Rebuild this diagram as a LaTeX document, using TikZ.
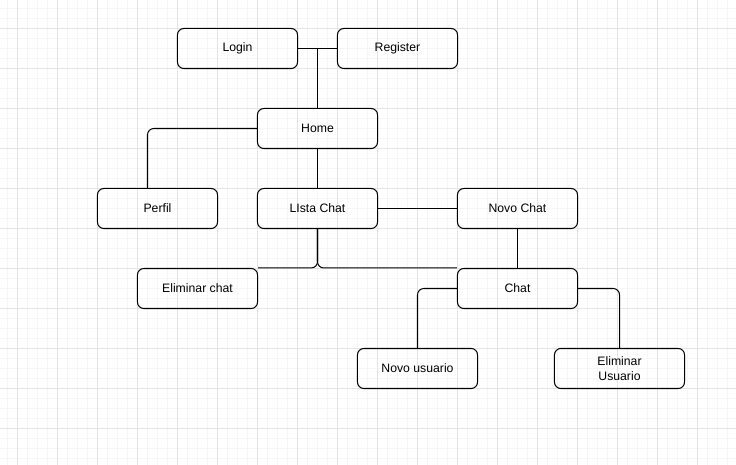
\documentclass[tikz,border=0pt]{standalone}
\usepackage{fontspec}
\setmainfont{Liberation Sans}
\definecolor{gridfine}{HTML}{F6F6F6}
\definecolor{gridbold}{HTML}{E4E4E4}
\usetikzlibrary{positioning}

\begin{document}
\begin{tikzpicture}[x=0.025cm,y=-0.025cm,
  screen/.style={draw,rounded corners=4.5pt,line width=0.72pt,align=center,
    minimum width=3cm,minimum height=1cm,inner sep=2pt,
    font=\fontsize{8.7}{10.2}\selectfont},
  link/.style={line width=0.72pt,rounded corners=4.5pt}]
  \useasboundingbox (-0.5,-0.5) rectangle (735.5,464.5);
  % grid
  \foreach \gx in {7,17,...,735} \draw[gridfine,line width=0.5pt] (\gx,-0.5) -- (\gx,464.5);
  \foreach \gy in {8,18,...,465} \draw[gridfine,line width=0.5pt] (-0.5,\gy) -- (735.5,\gy);
  \foreach \gx in {17,57,...,735} \draw[gridbold,line width=0.6pt] (\gx,-0.5) -- (\gx,464.5);
  \foreach \gy in {28,68,...,465} \draw[gridbold,line width=0.6pt] (-0.5,\gy) -- (735.5,\gy);
  % screens
  \node[screen] (login)    at (237,48)  {Login};
  \node[screen] (register) at (397,48)  {Register};
  \node[screen] (home)     at (317,128) {Home};
  \node[screen] (perfil)   at (157,208) {Perfil};
  \node[screen] (lista)    at (317,208) {LIsta Chat};
  \node[screen] (novochat) at (517,208) {Novo Chat};
  \node[screen] (elimchat) at (197,288) {Eliminar chat};
  \node[screen] (chat)     at (517,288) {Chat};
  \node[screen] (novouser) at (417,368) {Novo usuario};
  \node[screen,minimum width=3.25cm] (elimuser) at (619,368) {Eliminar\\Usuario};
  % links
  \draw[link] (login) -- (register);
  \draw[link] (home.north) -- (home.north |- login.east);
  \draw[link] (home.west) -| ([xshift=-2.5mm]perfil.north);
  \draw[link] (home) -- (lista);
  \draw[link] (lista) -- (novochat);
  \draw[link] (lista.south) |- (elimchat.north east);
  \draw[link] (lista.south) |- (chat.north west);
  \draw[link] (novochat) -- (chat);
  \draw[link] (chat.west) -| (novouser.north);
  \draw[link] (chat.east) -| (elimuser.north);
\end{tikzpicture}
\end{document}
